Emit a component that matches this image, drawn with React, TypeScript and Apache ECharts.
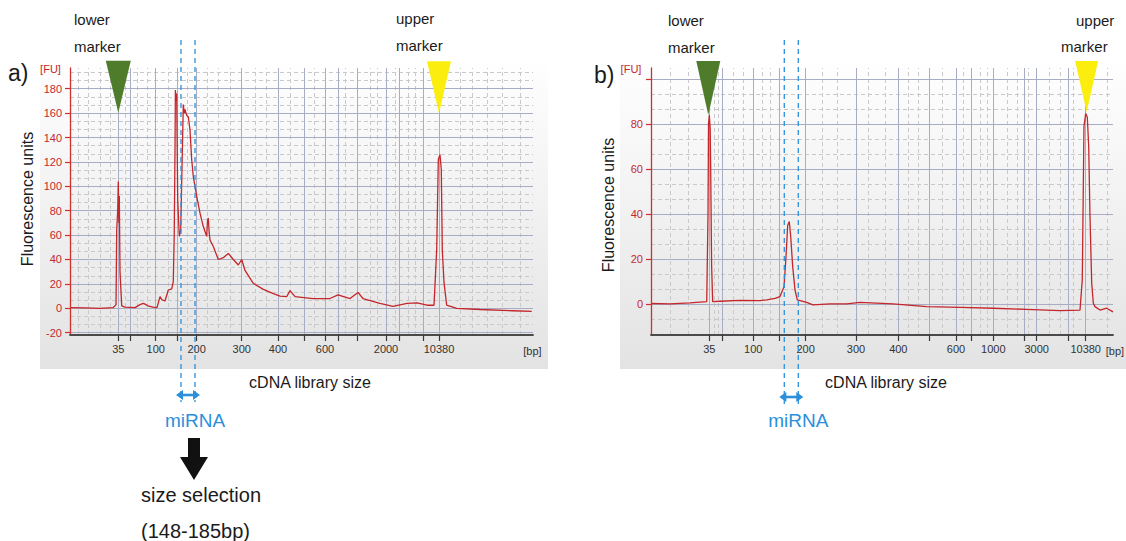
import React, { useEffect, useRef } from "react";
import * as echarts from "echarts";

// ---------------- Panel a (before size selection) ----------------
// x = migration position (0..100 across the run window), y = fluorescence [FU]
const migrationA = [0, 3.24, 6.48, 9.29, 9.94, 10.09, 10.3, 10.43, 10.56, 10.65, 10.8, 11.17, 11.88, 14.04, 15.12, 15.83, 16.41, 16.85, 17.93, 18.79, 19.44, 19.87, 20.52, 21.23, 21.97, 22.31, 22.51, 22.68, 22.76, 22.94, 23.04, 23.26, 23.61, 23.91, 24.12, 24.47, 24.69, 24.84, 25.21, 25.55, 25.92, 26.28, 26.63, 27.36, 28.08, 28.79, 29.52, 29.7, 29.87, 30.06, 30.24, 30.95, 32.03, 33.11, 34.19, 35.27, 36.35, 37.08, 37.8, 39.59, 41.75, 43.91, 45.36, 46.8, 47.52, 48.6, 52.48, 56.16, 57.88, 60.48, 62.2, 63.28, 66.95, 69.76, 72.79, 74.95, 77.11, 78.62, 79.2, 79.55, 79.91, 80.19, 80.41, 80.78, 81.36, 83.52, 88.55, 95.68, 99.72];
const fluorA = [0.5, 0.3, 0, 0.5, 3, 64, 80, 104, 70, 92, 30, 2, 1, 0.5, 3, 4, 3, 2, 1, 0.5, 9.5, 7, 6, 15, 16, 22, 60, 130, 179, 170, 176, 89, 59, 64, 103, 167, 160, 163, 158, 157, 146, 122, 108, 92, 78, 67, 59, 72, 74, 62, 56, 50.6, 40, 41.5, 45, 40, 35.5, 40, 31, 20.5, 15.5, 12.1, 10, 9.5, 14.5, 9.5, 8, 8, 11, 8, 13, 8, 4, 1.5, 4, 4.5, 2.5, 2.5, 48, 122, 126, 114, 48, 21, 2.5, 0, -1, -2, -2.5];
const ticksA = [10.43, 12.96, 18.51, 23.17, 27.36, 37.08, 44.92, 50.54, 55.08, 57.95, 62.05, 68.25, 71.12, 76.31, 79.7];
const labelPosA = [10.43, 18.51, 27.36, 37.08, 44.92, 55.08, 68.25, 79.7];
const labelTextA = ["35", "100", "200", "300", "400", "600", "2000", "10380"];
const minorXA = [1.73, 3.89, 6.48, 8.64, 11.88, 14.47, 16.63, 21.17, 25.27, 29.59, 31.97, 34.56, 39.96, 42.33, 47.52, 52.7, 59.4, 64.79, 66.31, 70.19, 73.0, 74.51, 84.23, 86.83, 90.1, 93.3, 97.19];
const markersA = [[10.43, 160.3], [79.7, 160]]; // lower (35 bp) / upper (10380 bp)
const mirnaA = [23.97, 27.0]; // 148-185 bp window

// ---------------- Panel b (after size selection) ----------------
const migrationB = [0, 4.11, 8.44, 12.06, 12.34, 12.45, 12.62, 12.81, 12.92, 13.12, 13.35, 14.94, 19.26, 23.59, 25.04, 26.84, 27.92, 28.79, 29.22, 29.59, 29.93, 30.24, 30.67, 31.17, 31.67, 33.7, 35.06, 38.74, 42.36, 45.24, 52.38, 59.68, 66.88, 74.09, 81.32, 88.53, 92.86, 93.35, 93.72, 94.09, 94.44, 94.74, 95.02, 95.39, 95.74, 96.1, 97.19, 98.64, 100];
const fluorB = [0.2, 0, 0.5, 1, 40, 80, 84, 78, 60, 17, 1, 1.2, 1.6, 1.5, 1.8, 2.5, 3.3, 7.7, 21, 35, 36.6, 30, 16.6, 6.2, 1.8, 0.7, -0.4, 0, 0, 0.7, 0, -1.2, -1.5, -1.9, -2.4, -3, -2.7, 10.7, 79, 84.7, 83, 70, 39, 9.2, 0.3, -1.2, -2.7, -1.9, -3.5];
const ticksB = [12.62, 15.43, 22.14, 27.71, 33.48, 44.37, 53.53, 60.17, 66.02, 69.42, 74.09, 80.74, 83.48, 90.32, 94.09];
const labelPosB = [12.62, 22.14, 33.48, 44.37, 53.53, 66.02, 74.09, 83.48, 94.09];
const labelTextB = ["35", "100", "200", "300", "400", "600", "1000", "3000", "10380"];
const minorXB = [4.11, 8.01, 13.64, 14.5, 17.75, 19.91, 24.03, 25.76, 37.01, 40.26, 46.97, 50.65, 55.63, 57.79, 62.99, 67.6, 71.2, 72.73, 77.06, 79.22, 81.6, 86.2, 88.53, 91.34, 98.7];
const markersB = [[12.4, 84], [94.3, 85.3]];
const mirnaB = [28.85, 31.88];

// y axes
const yRangeA = [-21.9, 197];
const yRangeB = [-13.8, 104.9];
const yMajorA = [-20, 0, 20, 40, 60, 80, 100, 120, 140, 160, 180];
const yLabelA = [-20, 0, 20, 40, 60, 80, 100, 120, 140, 160, 180];
const yMajorB = [0, 20, 40, 60, 80, 100];
const yLabelB = [0, 20, 40, 60, 80];

const FONT = "Liberation Sans, Arial, sans-serif";
const RED = "#c5282e";
const BLUE = "#2b8fdc";
const GRID_SOLID = "#a9adc4";
const GRID_DASH = "#c9c9c9";

function thirds(majors: number[], lo: number, hi: number) {
  const out: number[] = [];
  const step = 20 / 3;
  for (let v = majors[0] - 20; v <= hi; v += 20) {
    [step, 2 * step].forEach((d) => {
      const m = v + d;
      if (m > lo + 1 && m < hi - 1) out.push(m);
    });
  }
  return out;
}

function gridLines(ticks: number[], minorX: number[], yMajor: number[], yMinor: number[]) {
  const solid = { color: GRID_SOLID, type: "solid", width: 1 };
  const dash = { color: GRID_DASH, type: [4, 3], width: 1 };
  return [
    ...yMinor.map((v) => ({ yAxis: v, lineStyle: dash })),
    ...minorX.map((v) => ({ xAxis: v, lineStyle: dash })),
    ...yMajor.map((v) => ({ yAxis: v, lineStyle: solid })),
    ...ticks.map((v) => ({ xAxis: v, lineStyle: solid })),
  ];
}

function panel(
  i: number,
  xs: number[],
  ys: number[],
  ticks: number[],
  labelPos: number[],
  labelText: string[],
  minorX: number[],
  yRange: number[],
  yMajor: number[],
  yLabel: number[],
  markers: number[][],
  triSizes: number[][]
) {
  const yMinor = thirds(yMajor, yRange[0], yRange[1]);
  const xAxis = {
    type: "value",
    gridIndex: i,
    min: 0,
    max: 100,
    z: 6,
    axisLine: { show: true, onZero: false, lineStyle: { color: "#4a4a4a", width: 1.8 } },
    axisTick: { show: true, customValues: ticks, length: 6, lineStyle: { color: "#3a3a3a", width: 1.2 } },
    axisLabel: {
      customValues: labelPos,
      color: "#333",
      fontSize: 11,
      fontFamily: FONT,
      margin: 8,
      formatter: (v: number) => {
        const k = labelPos.findIndex((p) => Math.abs(p - v) < 0.01);
        return k >= 0 ? labelText[k] : "";
      },
    },
    splitLine: { show: false },
  };
  const yAxis = {
    type: "value",
    gridIndex: i,
    min: yRange[0],
    max: yRange[1],
    z: 6,
    axisLine: { show: true, onZero: false, lineStyle: { color: "#cf2f2f", width: 1.3 } },
    axisTick: { show: true, customValues: yMajor, length: 5, lineStyle: { color: "#cf2f2f", width: 1.2 } },
    axisLabel: { customValues: yLabel, color: RED, fontSize: 11, fontFamily: FONT, margin: 8 },
    splitLine: { show: false },
  };
  const series = {
    type: "line",
    xAxisIndex: i,
    yAxisIndex: i,
    data: xs.map((x, k) => [x, ys[k]]),
    showSymbol: false,
    symbol: "none",
    silent: true,
    z: 3,
    lineStyle: { color: "#c3262b", width: 1.3 },
    markLine: {
      silent: true,
      z: 1,
      symbol: ["none", "none"],
      label: { show: false },
      emphasis: { disabled: true },
      data: gridLines(ticks, minorX, yMajor, yMinor),
    },
    markPoint: {
      silent: true,
      z: 10,
      symbolKeepAspect: false,
      label: { show: false },
      data: markers.map((m, k) => ({
        coord: m,
        symbol: "path://M0,0 L20,0 L10,40 Z",
        symbolSize: triSizes[k],
        symbolOffset: [0, -triSizes[k][1] / 2],
        itemStyle: { color: k === 0 ? "#4f7c2a" : "#fbee0f" },
      })),
    },
  };
  return { xAxis, yAxis, series };
}

export default function App() {
  const ref = useRef<HTMLDivElement>(null);
  useEffect(() => {
    const chart = echarts.init(ref.current as HTMLDivElement, undefined, { renderer: "svg", width: 1126, height: 541 });
    const pa = panel(0, migrationA, fluorA, ticksA, labelPosA, labelTextA, minorXA, yRangeA, yMajorA, yLabelA, markersA, [[25, 52], [24, 52]]);
    const pb = panel(1, migrationB, fluorB, ticksB, labelPosB, labelTextB, minorXB, yRangeB, yMajorB, yLabelB, markersB, [[24, 54], [23, 51]]);
    chart.setOption({
      animation: false,
      backgroundColor: "#ffffff",
      textStyle: { fontFamily: FONT },
      grid: [
        { left: 70, top: 68, width: 463, height: 267, containLabel: false },
        { left: 651, top: 68, width: 462, height: 267, containLabel: false },
      ],
      xAxis: [pa.xAxis, pb.xAxis],
      yAxis: [pa.yAxis, pb.yAxis],
      series: [pa.series, pb.series],
    } as any);

    const px = (idx: number, v: number) => chart.convertToPixel({ xAxisIndex: idx } as any, v) as number;
    const txt = (text: string, x: number, y: number, size: number, fill = "#1b1b1b", align = "left") => ({
      type: "text",
      z: 100,
      style: { text, x, y, fill, font: `${size}px ${FONT}`, textAlign: align, textVerticalAlign: "middle", verticalAlign: "middle" },
    });
    const vtxt = (text: string, x: number, y: number, size: number) => ({
      type: "text",
      z: 100,
      x,
      y,
      rotation: Math.PI / 2,
      style: { text, x: 0, y: 0, fill: "#1b1b1b", font: `${size}px ${FONT}`, textAlign: "center", textVerticalAlign: "middle", verticalAlign: "middle" },
    });
    const windowGraphics = (idx: number, win: number[], top: number, bottom: number, arrowY: number) => {
      const x1 = px(idx, win[0]);
      const x2 = px(idx, win[1]);
      const xc = (x1 + x2) / 2;
      const dashStyle = { stroke: BLUE, lineWidth: 1.3, lineDash: [5, 4] };
      return [
        { type: "line", z: 100, shape: { x1, y1: top, x2: x1, y2: bottom }, style: dashStyle },
        { type: "line", z: 100, shape: { x1: x2, y1: top, x2, y2: bottom }, style: dashStyle },
        { type: "line", z: 101, shape: { x1: xc - 6, y1: arrowY, x2: xc + 6, y2: arrowY }, style: { stroke: BLUE, lineWidth: 2.6 } },
        { type: "polygon", z: 101, shape: { points: [[xc - 12, arrowY], [xc - 5, arrowY - 5], [xc - 5, arrowY + 5]] }, style: { fill: BLUE } },
        { type: "polygon", z: 101, shape: { points: [[xc + 12, arrowY], [xc + 5, arrowY - 5], [xc + 5, arrowY + 5]] }, style: { fill: BLUE } },
        txt("miRNA", xc + 7, 420, 19, BLUE, "center"),
      ];
    };
    const bg = (x: number, w: number) => ({
      type: "rect",
      z: -10,
      shape: { x, y: 56, width: w, height: 313 },
      style: {
        fill: new echarts.graphic.LinearGradient(0, 0, 0, 1, [
          { offset: 0, color: "#ffffff" },
          { offset: 1, color: "#e3e3e3" },
        ]),
      },
    });

    chart.setOption({
      graphic: [
        bg(40, 508),
        bg(620, 506),
        txt("a)", 8, 73, 23),
        txt("b)", 594, 75, 23),
        txt("lower", 74, 19, 15),
        txt("marker", 74, 46, 15),
        txt("upper", 396, 18, 15),
        txt("marker", 396, 45, 15),
        txt("lower", 668, 20, 15),
        txt("marker", 668, 47, 15),
        txt("upper", 1076, 20, 15),
        txt("marker", 1061, 46, 15),
        txt("[FU]", 50.5, 69, 11, RED, "center"),
        txt("[FU]", 631, 69, 11, RED, "center"),
        txt("[bp]", 532.5, 351, 11, "#333", "center"),
        txt("[bp]", 1115, 351, 11, "#333", "center"),
        vtxt("Fluorescence units", 27, 199, 16),
        vtxt("Fluorescence units", 608, 205, 16),
        txt("cDNA library size", 310, 382, 16, "#1b1b1b", "center"),
        txt("cDNA library size", 886, 382, 16, "#1b1b1b", "center"),
        ...windowGraphics(0, mirnaA, 40, 402, 395),
        ...windowGraphics(1, mirnaB, 40, 404, 397),
        {
          type: "polygon",
          z: 100,
          shape: { points: [[188, 438], [200, 438], [200, 457], [208, 457], [194, 480], [180, 457], [188, 457]] },
          style: { fill: "#111" },
        },
        txt("size selection", 141, 495, 20),
        txt("(148-185bp)", 141, 531, 20),
      ],
    } as any);
    return () => chart.dispose();
  }, []);
  return <div ref={ref} style={{ position: "absolute", left: 0, top: 0, width: 1126, height: 541, background: "#fff" }} />;
}
